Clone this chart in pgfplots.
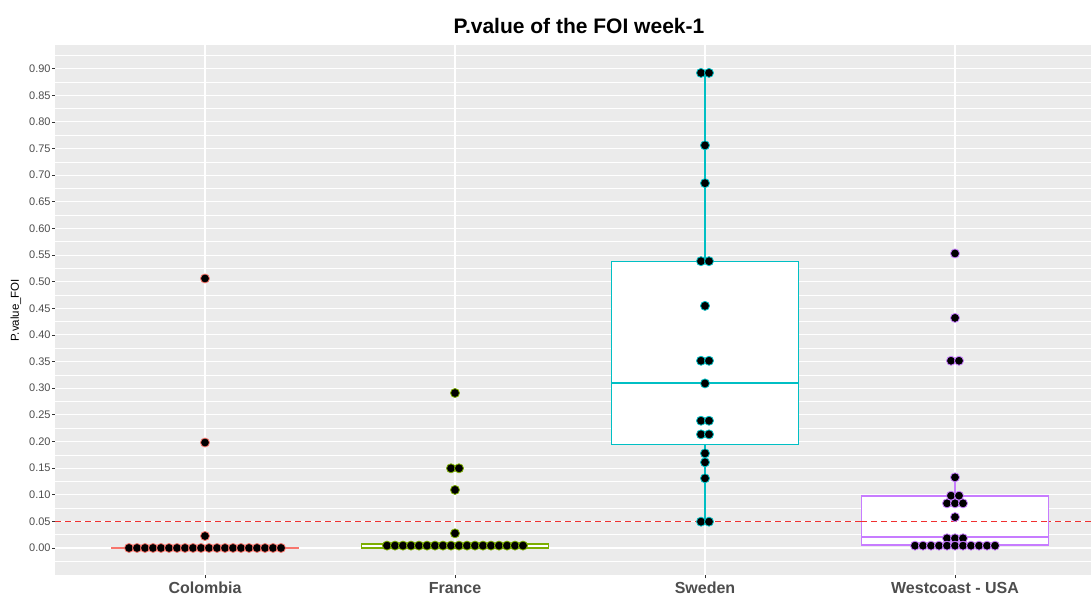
\documentclass[border=0pt]{standalone}
\usepackage{fontspec}
\setmainfont{Liberation Sans}
\usepackage{pgfplots}
\pgfplotsset{compat=1.18}

\definecolor{c1}{HTML}{F8766D}
\definecolor{c2}{HTML}{7CAE00}
\definecolor{c3}{HTML}{00BFC4}
\definecolor{c4}{HTML}{C77CFF}
\definecolor{panel}{HTML}{EBEBEB}
\definecolor{txt}{HTML}{4D4D4D}
\definecolor{tk}{HTML}{333333}
\definecolor{dashred}{HTML}{F03030}

\pgfplotsset{
  pts/.style={only marks, mark=*, mark size=4.5pt,
    mark options={fill=black, draw=#1, line width=0.8pt}},
  boxline/.style={draw=#1, line width=1.1pt},
}

\begin{document}
\begin{tikzpicture}[x=1pt,y=1pt]
\useasboundingbox (0,0) rectangle (1091,595);
\begin{axis}[
    at={(55.3pt,19.7pt)}, anchor=south west,
    width=1035.7pt, height=530.3pt, scale only axis,
    xmin=0.4012, xmax=4.544,
    ymin=-0.0513, ymax=0.9444,
    axis background/.style={fill=panel},
    axis line style={draw=none},
    xtick={1,2,3,4},
    xticklabels={Colombia, France, Sweden, Westcoast - USA},
    ytick={0,0.05,0.1,0.15,0.2,0.25,0.3,0.35,0.4,0.45,0.5,0.55,0.6,0.65,0.7,0.75,0.8,0.85,0.9},
    minor ytick={-0.025,0.025,0.075,0.125,0.175,0.225,0.275,0.325,0.375,0.425,0.475,0.525,0.575,0.625,0.675,0.725,0.775,0.825,0.875,0.925},
    xmajorgrids, ymajorgrids, yminorgrids,
    major grid style={white, line width=1.1pt},
    minor grid style={white, line width=0.55pt},
    tick align=outside, xtick pos=bottom, ytick pos=left,
    major tick length=3pt, minor tick length=0pt,
    tick style={tk, line width=0.8pt},
    yticklabel={\pgfmathprintnumber[fixed,fixed zerofill,precision=2,assume math mode=true]{\tick}},
    yticklabel style={font=\fontsize{11}{13}\selectfont, text=txt, inner sep=1.5pt},
    xticklabel style={font=\fontsize{16}{19}\selectfont\bfseries, text=txt, inner sep=2pt,
      text height=12pt, text depth=0pt, yshift=-1pt},
    ylabel={P.value\_FOI},
    ylabel style={at={(axis description cs:-0.038,0.5)}, anchor=center,
      font=\fontsize{11.5}{13}\selectfont},
    clip=false,
]
% reference line at 0.05 (drawn first, boxes then cover it where white)
\addplot[boxline=dashred, line width=1.3pt, dash pattern=on 6pt off 4pt] coordinates {(0.4012,0.05) (4.544,0.05)};

% boxes
\addplot[boxline=c1, line width=2.2pt] coordinates {(0.625,0) (1.375,0)};

\addplot[boxline=c2, fill=white] coordinates {(1.625,0.0005) (2.375,0.0005) (2.375,0.0075) (1.625,0.0075)} -- cycle;
\addplot[boxline=c2, line width=2.2pt] coordinates {(1.625,0.0005) (2.375,0.0005)};

\addplot[boxline=c3] coordinates {(3,0.0494) (3,0.195)};
\addplot[boxline=c3] coordinates {(3,0.5385) (3,0.892)};
\addplot[boxline=c3, fill=white] coordinates {(2.625,0.195) (3.375,0.195) (3.375,0.5385) (2.625,0.5385)} -- cycle;
\addplot[boxline=c3, line width=2.2pt] coordinates {(2.625,0.3096) (3.375,0.3096)};

\addplot[boxline=c4] coordinates {(4,0.0976) (4,0.1326)};
\addplot[boxline=c4, fill=white] coordinates {(3.625,0.0056) (4.375,0.0056) (4.375,0.0976) (3.625,0.0976)} -- cycle;
\addplot[boxline=c4, line width=2.2pt] coordinates {(3.625,0.020) (4.375,0.020)};

% dashed line again over the Westcoast box
\addplot[boxline=dashred, line width=1.3pt, dash pattern=on 6pt off 4pt] coordinates {(3.625,0.05) (4.375,0.05)};

% Colombia
\addplot[pts=c1] coordinates {
(0.696,0) (0.728,0) (0.760,0) (0.792,0) (0.824,0) (0.856,0) (0.888,0) (0.920,0) (0.952,0) (0.984,0)
(1.016,0) (1.048,0) (1.080,0) (1.112,0) (1.144,0) (1.176,0) (1.208,0) (1.240,0) (1.272,0) (1.304,0)
(1,0.0225) (1,0.198) (1,0.506)};

% France
\addplot[pts=c2] coordinates {
(1.728,0.0045) (1.760,0.0045) (1.792,0.0045) (1.824,0.0045) (1.856,0.0045) (1.888,0.0045)
(1.920,0.0045) (1.952,0.0045) (1.984,0.0045) (2.016,0.0045) (2.048,0.0045) (2.080,0.0045)
(2.112,0.0045) (2.144,0.0045) (2.176,0.0045) (2.208,0.0045) (2.240,0.0045) (2.272,0.0045)
(2,0.0275) (2,0.109) (1.984,0.1496) (2.016,0.1496) (2,0.291)};

% Sweden
\addplot[pts=c3] coordinates {
(2.984,0.892) (3.016,0.892) (3,0.756) (3,0.685) (2.984,0.5385) (3.016,0.5385)
(3,0.4546) (2.984,0.3515) (3.016,0.3515) (3,0.309) (2.984,0.2389) (3.016,0.2389)
(2.984,0.2133) (3.016,0.2133) (3,0.1777) (3,0.1608) (3,0.1308) (2.984,0.0494) (3.016,0.0494)};

% Westcoast - USA
\addplot[pts=c4] coordinates {
(4,0.553) (4,0.432) (3.984,0.3515) (4.016,0.3515) (4,0.1326)
(3.984,0.0982) (4.016,0.0982) (3.968,0.0838) (4,0.0838) (4.032,0.0838)
(4,0.058) (3.968,0.0182) (4,0.0182) (4.032,0.0182)
(3.840,0.0044) (3.872,0.0044) (3.904,0.0044) (3.936,0.0044) (3.968,0.0044) (4,0.0044)
(4.032,0.0044) (4.064,0.0044) (4.096,0.0044) (4.128,0.0044) (4.160,0.0044)};
\end{axis}
\node[anchor=base, font=\fontsize{21}{25}\selectfont\bfseries] at (579,561.7) {P.value of the FOI week-1};
\end{tikzpicture}
\end{document}
